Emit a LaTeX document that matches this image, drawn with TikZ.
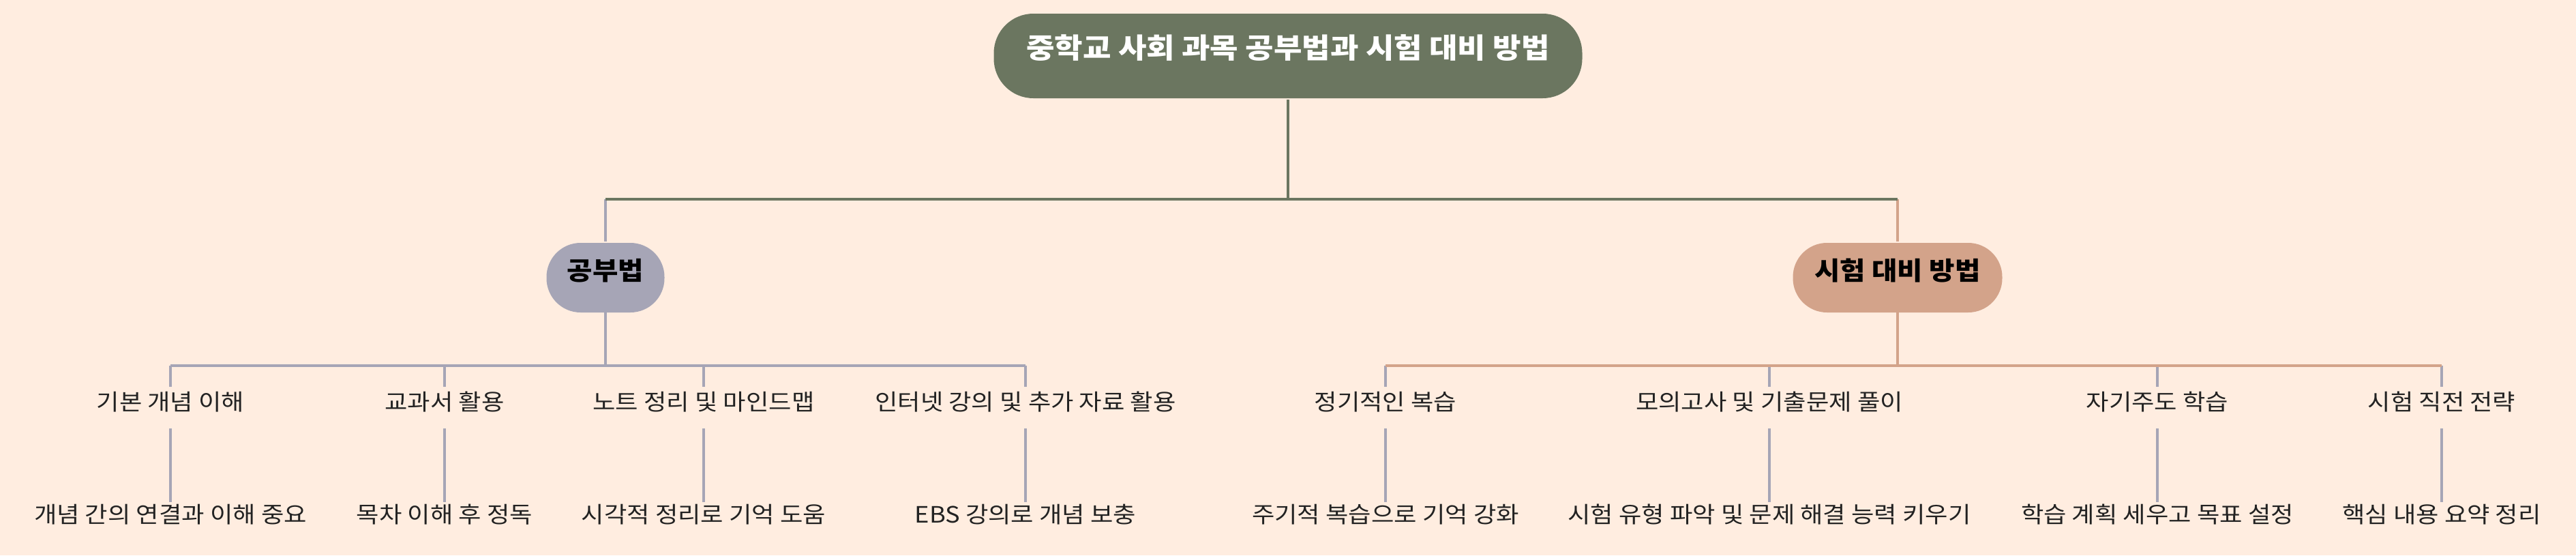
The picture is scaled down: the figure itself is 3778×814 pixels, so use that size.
\documentclass[tikz,border=0pt]{standalone}
\usepackage{fontspec}
\setmainfont{Noto Sans CJK KR}[FakeStretch=1.1]
\definecolor{bgc}{HTML}{FFEDE0}
\definecolor{rootc}{HTML}{6B7660}
\definecolor{grayc}{HTML}{A6A5B6}
\definecolor{salc}{HTML}{D3A38A}
\definecolor{txtc}{HTML}{222222}
\begin{document}
\begin{tikzpicture}[x=1pt,y=-1pt,
  rootbox/.style={fill=rootc,text=white,font=\fontsize{41}{50}\selectfont\bfseries,
    minimum width=863pt,minimum height=124pt,rounded corners=58pt,inner sep=0pt,
    text height=0.8em,text depth=0.1em},
  subbox/.style={fill=#1,text=black,font=\fontsize{37}{44}\selectfont\bfseries,
    minimum height=102pt,rounded corners=50pt,inner sep=0pt,
    text height=0.8em,text depth=0.1em},
  itembox/.style={text=txtc,font=\fontsize{33}{40}\selectfont,
    minimum height=61pt,inner sep=0pt,text height=0.8em,text depth=0.1em},
  leafbox/.style={text=txtc,font=\fontsize{33}{40}\selectfont,
    minimum height=54pt,inner sep=0pt,text height=0.8em,text depth=0.1em},
  greenline/.style={draw=rootc,line width=4pt},
  grayline/.style={draw=grayc,line width=3.5pt},
  grayline bar/.style={draw=grayc,line width=4pt},
  salline/.style={draw=salc,line width=4pt},
]
\useasboundingbox[fill=bgc] (0,0) rectangle (3778,814);

% root and branches
\node[rootbox] (r) at (1889,82) {중학교 사회 과목 공부법과 시험 대비 방법};
\node[subbox=grayc,minimum width=173pt] (a) at (888,407) {공부법};
\node[subbox=salc,minimum width=307pt] (b) at (2783,407) {시험 대비 방법};

% items of 공부법
\node[itembox] (a1) at (250,597.5) {기본 개념 이해};
\node[itembox] (a2) at (652,597.5) {교과서 활용};
\node[itembox] (a3) at (1032,597.5) {노트 정리 및 마인드맵};
\node[itembox] (a4) at (1504,597.5) {인터넷 강의 및 추가 자료 활용};
\node[leafbox] (a1l) at (250,763) {개념 간의 연결과 이해 중요};
\node[leafbox] (a2l) at (652,763) {목차 이해 후 정독};
\node[leafbox] (a3l) at (1032,763) {시각적 정리로 기억 도움};
\node[leafbox] (a4l) at (1504,763) {EBS 강의로 개념 보충};

% items of 시험 대비 방법
\node[itembox] (b1) at (2032,597.5) {정기적인 복습};
\node[itembox] (b2) at (2595,597.5) {모의고사 및 기출문제 풀이};
\node[itembox] (b3) at (3164,597.5) {자기주도 학습};
\node[itembox] (b4) at (3581,597.5) {시험 직전 전략};
\node[leafbox] (b1l) at (2032,763) {주기적 복습으로 기억 강화};
\node[leafbox] (b2l) at (2595,763) {시험 유형 파악 및 문제 해결 능력 키우기};
\node[leafbox] (b3l) at (3164,763) {학습 계획 세우고 목표 설정};
\node[leafbox] (b4l) at (3581,763) {핵심 내용 요약 정리};

% junction coordinates
\coordinate (rj) at (1889,291.5);
\coordinate (aj) at (888,291.5);
\coordinate (bj) at (2783,291.5);
\coordinate (ab) at (888,535.5);
\coordinate (bb) at (2783,535.5);

% root connectors
\draw[greenline,shorten <=2pt] (r.south) -- (rj);
\draw[grayline bar,shorten >=2pt] (aj) -- (a.north);
\draw[salline,shorten >=2pt] (bj) -- (b.north);
\draw[greenline] (aj) -- (bj);

% 공부법 connectors
\draw[grayline bar] (a.south) -- (ab);
\foreach \n in {a1,a2,a3,a4}{
  \draw[grayline] (\n.north |- ab) -- (\n.north);
  \draw[grayline] (\n.south) -- (\n l.north);
}
\draw[grayline bar] (a1.north |- ab) -- (a4.north |- ab);

% 시험 대비 방법 connectors
\draw[salline] (b.south) -- (bb);
\foreach \n in {b1,b2,b3,b4}{
  \draw[grayline] (\n.north |- bb) -- (\n.north);
  \draw[grayline] (\n.south) -- (\n l.north);
}
\draw[salline] (b1.north |- bb) -- (b4.north |- bb);
\end{tikzpicture}
\end{document}
